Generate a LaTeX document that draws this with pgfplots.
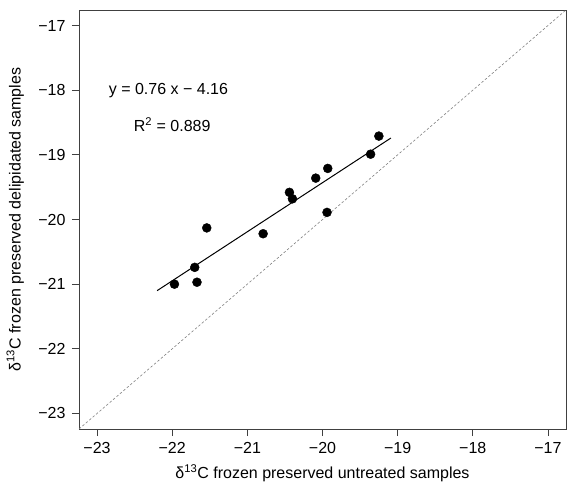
\documentclass[border=0pt]{standalone}
\usepackage{fontspec}
\setmainfont{Liberation Sans}
\usepackage{pgfplots}
\pgfplotsset{compat=1.18}
\begin{document}
\begin{tikzpicture}
\begin{axis}[
  scale only axis, width=487pt, height=419pt,
  xmin=-23.24, xmax=-16.76, ymin=-23.24, ymax=-16.76,
  axis line style={black!75, line width=0.8pt},
  tick style={black!75, line width=0.8pt},
  tick align=outside, major tick length=7pt,
  xtick pos=left, ytick pos=left,
  xtick={-23,-22,-21,-20,-19,-18,-17},
  ytick={-23,-22,-21,-20,-19,-18,-17},
  xticklabels={−23,−22,−21,−20,−19,−18,−17},
  yticklabels={−23,−22,−21,−20,−19,−18,−17},
  ticklabel style={font=\fontsize{16}{19}\selectfont},
  xticklabel style={yshift=-3pt},
  yticklabel style={xshift=-3pt},
  xlabel={δ\textsuperscript{13}C frozen preserved untreated samples},
  ylabel={δ\textsuperscript{13}C frozen preserved delipidated samples},
  label style={font=\fontsize{16}{19}\selectfont},
  xlabel style={at={(axis description cs:0.5,-0.105)}, anchor=center},
  ylabel style={at={(axis description cs:-0.131,0.5)}, anchor=center},
]
\addplot[gray, line width=0.6pt, dash pattern=on 2.5pt off 2pt] coordinates {(-23.24,-23.24) (-16.76,-16.76)};
\addplot[black, line width=1pt] coordinates {(-22.2,-21.1) (-19.09,-18.74)};
\addplot[only marks, mark=*, mark size=4.5pt, black] coordinates {
(-21.97,-21.00)
(-21.67,-20.97)
(-21.70,-20.74)
(-21.54,-20.13)
(-20.79,-20.22)
(-20.44,-19.58)
(-20.40,-19.68)
(-20.09,-19.36)
(-19.93,-19.21)
(-19.94,-19.89)
(-19.36,-18.99)
(-19.25,-18.71)
};
\node[font=\fontsize{16}{19}\selectfont] at (axis cs:-22.05,-18.01) {y = 0.76 x − 4.16};
\node[font=\fontsize{16}{19}\selectfont] at (axis cs:-22.0,-18.53) {R\textsuperscript{2} = 0.889};
\end{axis}
\path ([shift={(-79pt,-58.7pt)}]current axis.south west) ([shift={(3pt,10pt)}]current axis.north east);
\end{tikzpicture}
\end{document}
